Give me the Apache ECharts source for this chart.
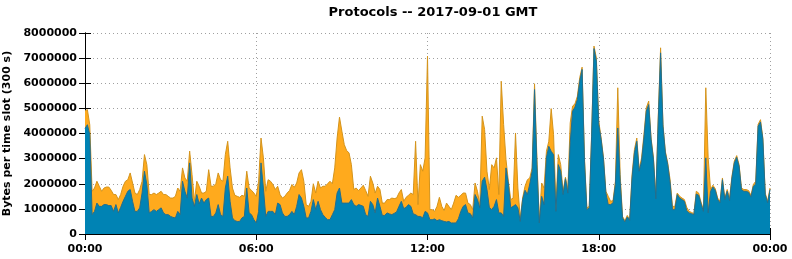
<!DOCTYPE html>
<html>
<head>
<meta charset="utf-8">
<script src="https://cdn.jsdelivr.net/npm/echarts@6/dist/echarts.min.js"></script>
<style>
html,body{margin:0;padding:0;background:#fff;}
#c{width:792px;height:259px;}
</style>
</head>
<body>
<div id="c"></div>
<script>
// Time slots: 5-minute steps, index 0..288 (00:00 .. 24:00)
var xTickLabels = ['00:00', '06:00', '12:00', '18:00', '00:00'];
var yTicks = [0, 1000000, 2000000, 3000000, 4000000, 5000000, 6000000, 7000000, 8000000];

// Blue series (bottom protocol), millions of bytes per slot
var blueM = [
4.2,4.35,3.95,0.77,0.9,1.23,1.1,1.1,1.17,1.17,1.13,1.13,0.9,1.17,0.84,1.06,1.3,1.5,1.7,1.77,
1.3,0.9,0.9,1.04,1.63,2.5,1.97,0.84,0.9,0.97,0.9,0.97,1.04,0.84,0.77,0.77,0.7,0.66,0.64,0.9,
0.77,2.1,1.7,1.43,2.83,1.43,1.1,1.57,1.2,1.43,1.23,1.37,1.43,0.7,0.7,0.84,1.17,0.77,0.7,1.83,
2.3,1.3,0.64,0.53,0.5,0.5,0.64,0.7,1.83,0.84,0.77,0.57,0.44,0.9,2.83,1.83,0.7,0.9,0.9,0.9,
0.77,1.23,1.17,0.84,0.7,0.7,0.77,0.9,0.77,1.1,1.57,1.43,1.1,0.64,0.64,0.9,1.37,0.97,1.3,0.97,
0.77,0.66,0.57,0.57,0.77,0.97,1.63,1.83,1.23,1.23,1.23,1.23,1.37,1.17,1.1,1.17,1.14,1.1,0.77,0.7,
1.3,1.17,0.84,1.43,1.1,0.74,0.74,0.84,0.8,0.77,0.82,0.88,1.1,1.3,1.01,1.06,1.17,1.1,0.8,0.77,
0.7,0.7,0.64,0.9,0.84,0.57,0.57,0.6,0.53,0.57,0.53,0.5,0.48,0.5,0.44,0.44,0.44,0.61,0.9,1.1,
1.17,0.84,0.81,0.64,1.57,1.37,1.04,2.1,2.26,1.77,1.06,0.97,1.1,1.37,0.84,0.84,0.7,2.63,1.99,1.04,
1.1,1.17,1.04,0.5,1.37,1.74,1.57,1.99,2.5,5.75,2.76,0.44,1.5,1.17,3.03,3.49,3.29,3.16,0.9,2.76,
2.5,1.57,2.2,1.63,3.63,4.89,5.05,5.35,6.08,6.55,2.9,0.97,1.04,3.89,7.38,6.88,4.36,3.76,2.96,1.63,
1.17,1.17,1.24,1.97,4.22,2.1,0.64,0.48,0.68,0.54,2.23,3.23,3.69,2.5,2.9,3.82,4.89,5.15,3.76,2.96,
1.4,4.49,7.21,4.29,3.23,2.76,2.03,0.97,0.97,1.57,1.43,1.37,1.3,0.93,0.84,0.81,0.77,1.59,1.54,1.21,
0.9,3.03,0.84,1.7,1.87,1.74,1.37,1.24,2.16,1.37,1.7,1.33,2.23,2.83,3.05,2.7,1.77,1.7,1.7,1.66,
1.47,1.9,1.99,4.29,4.46,3.76,1.57,1.24,1.76
];

// Orange series top edge (total of both protocols), millions of bytes per slot
var totalM = [
4.9,4.95,4.35,1.7,1.83,2.1,1.9,1.7,1.83,1.87,1.87,1.74,1.57,1.57,1.37,1.57,1.9,2.1,2.16,2.43,
2.03,1.63,1.57,1.77,2.1,3.16,2.76,1.57,1.57,1.63,1.57,1.63,1.7,1.57,1.57,1.5,1.43,1.43,1.5,1.83,
1.7,2.63,2.23,2.1,3.3,2.36,1.3,2.1,1.9,1.63,1.63,1.7,2.56,1.9,1.9,2.0,2.43,2.16,2.1,3.16,
3.69,2.63,1.83,1.54,1.5,1.46,1.54,1.5,2.5,1.83,1.74,1.63,1.5,2.1,3.82,3.03,1.7,2.16,2.1,1.97,
1.77,1.9,1.57,1.43,1.5,1.63,1.73,1.97,1.86,2.03,2.43,2.56,2.1,1.17,1.1,1.3,2.0,1.63,2.1,1.83,
1.9,1.9,2.0,2.1,2.0,2.63,3.82,4.65,4.09,3.56,3.32,3.23,2.76,1.77,1.83,1.73,1.83,1.94,1.73,1.5,
2.3,2.03,1.63,1.9,1.77,1.23,1.23,1.37,1.37,1.43,1.41,1.43,1.63,1.77,1.3,1.46,1.54,1.63,1.57,3.69,
1.17,2.76,2.5,3.03,7.08,0.97,0.97,0.9,1.1,1.46,1.1,0.93,1.23,1.1,0.97,1.23,1.54,1.46,1.54,1.63,
1.63,1.23,1.17,0.97,2.03,1.7,1.17,4.69,4.16,2.5,1.77,2.76,2.63,3.03,1.57,6.08,4.36,2.96,2.1,1.37,
1.43,4.02,1.83,0.64,1.43,1.9,2.16,2.23,2.63,5.98,3.03,0.5,2.03,1.83,3.29,3.69,4.99,3.96,1.17,3.16,
2.76,1.7,2.26,1.77,4.42,5.09,5.18,5.48,6.22,6.64,3.03,1.04,1.1,3.96,7.48,7.01,4.49,3.82,3.03,1.7,
1.5,1.3,1.33,2.1,5.82,2.36,0.7,0.53,0.74,0.57,2.36,3.36,3.82,2.56,3.03,3.96,5.02,5.29,3.82,3.03,
1.5,4.62,7.41,4.36,3.29,2.83,2.16,1.1,1.1,1.63,1.5,1.43,1.37,1.06,0.9,0.86,0.81,1.7,1.63,1.27,
0.97,5.82,3.03,1.77,1.94,1.8,1.43,1.3,2.23,1.43,1.77,1.43,2.3,2.9,3.12,2.76,1.83,1.77,1.77,1.73,
1.54,1.97,2.1,4.36,4.55,3.82,1.63,1.3,1.83
];

function toPairs(arr) {
  var out = [];
  for (var i = 0; i < arr.length; i++) out.push([i, arr[i] * 1000000]);
  return out;
}

var font = 'DejaVu Sans';
var chart = echarts.init(document.getElementById('c'), null, {renderer: 'canvas'});
var xMax = 288, xInt = 72;

chart.setOption({
  animation: false,
  backgroundColor: '#ffffff',
  title: {
    text: 'Protocols -- 2017-09-01 GMT',
    left: 428, top: 1, textAlign: 'center',
    textStyle: {fontFamily: font, fontWeight: 'bold', fontSize: 13, color: '#000'}
  },
  grid: {left: 85, right: 22, top: 33, bottom: 25, containLabel: false, outerBoundsMode: 'none'},
  xAxis: [{
    type: 'value', min: 0, max: xMax, interval: xInt,
    axisLine: {show: true, lineStyle: {color: '#000', width: 1}},
    axisTick: {show: true, inside: true, length: 6, lineStyle: {color: '#000'}},
    axisLabel: {
      margin: 10, color: '#000', fontFamily: font, fontWeight: 'bold', fontSize: 11,
      formatter: function (v) { return xTickLabels[Math.round(v / xInt)]; }
    },
    splitLine: {show: true, lineStyle: {color: '#a0a0a0', type: [1, 3], width: 1}}
  }, {
    type: 'value', position: 'top', min: 0, max: xMax, interval: xInt,
    axisLine: {show: true, lineStyle: {color: '#000', width: 1}},
    axisTick: {show: true, inside: true, length: 6, lineStyle: {color: '#000'}},
    axisLabel: {show: false}, splitLine: {show: false}
  }],
  yAxis: [{
    type: 'value', min: yTicks[0], max: yTicks[yTicks.length - 1], interval: yTicks[1] - yTicks[0],
    name: 'Bytes per time slot (300 s)', nameLocation: 'middle', nameGap: 67, nameRotate: 90,
    nameTextStyle: {fontFamily: font, fontWeight: 'bold', fontSize: 11, color: '#000'},
    axisLine: {show: true, lineStyle: {color: '#000', width: 1}},
    axisTick: {show: true, inside: true, length: 6, lineStyle: {color: '#000'}},
    axisLabel: {
      margin: 8, color: '#000', fontFamily: font, fontWeight: 'bold', fontSize: 11,
      formatter: function (v) { return String(v); }
    },
    splitLine: {show: true, lineStyle: {color: '#a0a0a0', type: [1, 3], width: 1}}
  }, {
    type: 'value', position: 'right', min: yTicks[0], max: yTicks[yTicks.length - 1], interval: yTicks[1] - yTicks[0],
    axisLine: {show: true, lineStyle: {color: '#000', width: 1}},
    axisTick: {show: true, inside: true, length: 6, lineStyle: {color: '#000'}},
    axisLabel: {show: false}, splitLine: {show: false}
  }],
  series: [{
    name: 'total', type: 'line', data: toPairs(totalM),
    showSymbol: false, symbol: 'none', smooth: false, z: 2,
    lineStyle: {color: '#D4941C', width: 1},
    areaStyle: {color: '#FFAA1D', opacity: 1}
  }, {
    name: 'blue', type: 'line', data: toPairs(blueM),
    showSymbol: false, symbol: 'none', smooth: false, z: 3,
    lineStyle: {color: '#236E8E', width: 1},
    areaStyle: {color: '#0083B4', opacity: 1}
  }]
});
</script>
</body>
</html>
